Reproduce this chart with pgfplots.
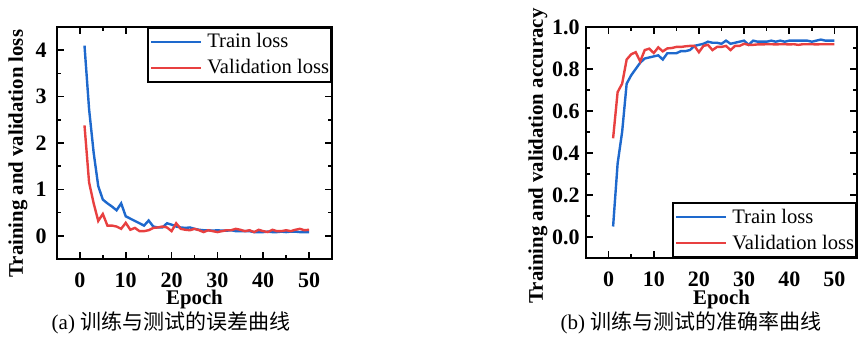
\documentclass[border=0pt]{standalone}
\usepackage{pgfplots}
\pgfplotsset{compat=1.18}
\usepackage{fontspec}
\setmainfont{Liberation Serif}
\newfontfamily\cjk{Noto Sans CJK SC}
\definecolor{cblue}{RGB}{30,105,205}
\definecolor{cred}{RGB}{232,64,64}

\pgfplotstableread{
e loss
1 4.10
2 2.73
3 1.79
4 1.07
5 0.78
6 0.70
7 0.63
8 0.55
9 0.70
10 0.42
11 0.37
12 0.32
13 0.27
14 0.22
15 0.33
16 0.20
17 0.18
18 0.18
19 0.27
20 0.24
21 0.20
22 0.18
23 0.17
24 0.18
25 0.15
26 0.13
27 0.12
28 0.12
29 0.11
30 0.12
31 0.11
32 0.11
33 0.12
34 0.10
35 0.10
36 0.10
37 0.10
38 0.08
39 0.08
40 0.08
41 0.09
42 0.08
43 0.08
44 0.09
45 0.08
46 0.09
47 0.09
48 0.08
49 0.08
50 0.08
}\trainloss

\pgfplotstableread{
e loss
1 2.38
2 1.15
3 0.70
4 0.32
5 0.47
6 0.22
7 0.22
8 0.20
9 0.15
10 0.28
11 0.13
12 0.17
13 0.10
14 0.10
15 0.12
16 0.17
17 0.18
18 0.20
19 0.18
20 0.10
21 0.27
22 0.15
23 0.13
24 0.12
25 0.15
26 0.12
27 0.08
28 0.12
29 0.10
30 0.08
31 0.10
32 0.12
33 0.12
34 0.15
35 0.13
36 0.10
37 0.12
38 0.08
39 0.13
40 0.10
41 0.08
42 0.13
43 0.10
44 0.10
45 0.12
46 0.10
47 0.13
48 0.15
49 0.12
50 0.13
}\valloss

\pgfplotstableread{
e acc
1 0.05
2 0.35
3 0.50
4 0.73
5 0.77
6 0.80
7 0.83
8 0.85
9 0.855
10 0.86
11 0.865
12 0.845
13 0.875
14 0.875
15 0.875
16 0.885
17 0.885
18 0.89
19 0.91
20 0.915
21 0.92
22 0.93
23 0.925
24 0.925
25 0.92
26 0.935
27 0.92
28 0.925
29 0.93
30 0.935
31 0.915
32 0.935
33 0.93
34 0.93
35 0.93
36 0.935
37 0.93
38 0.935
39 0.93
40 0.935
41 0.935
42 0.935
43 0.935
44 0.935
45 0.93
46 0.935
47 0.94
48 0.935
49 0.935
50 0.935
}\trainacc

\pgfplotstableread{
e acc
1 0.47
2 0.69
3 0.73
4 0.845
5 0.87
6 0.88
7 0.836
8 0.89
9 0.897
10 0.876
11 0.903
12 0.884
13 0.898
14 0.90
15 0.905
16 0.905
17 0.908
18 0.91
19 0.91
20 0.88
21 0.91
22 0.915
23 0.89
24 0.905
25 0.905
26 0.91
27 0.89
28 0.91
29 0.91
30 0.92
31 0.915
32 0.915
33 0.917
34 0.917
35 0.918
36 0.918
37 0.917
38 0.918
39 0.918
40 0.917
41 0.918
42 0.915
43 0.918
44 0.918
45 0.918
46 0.917
47 0.918
48 0.918
49 0.918
50 0.918
}\valacc

\pgfplotsset{
  myaxis/.style={
    scale only axis,
    axis line style={line width=0.8bp},
    every tick/.style={line width=0.8bp, black},
    tick align=inside,
    major tick length=3.5bp,
    minor tick length=2bp,
    minor tick num=1,
    xmin=-5, xmax=55,
    xtick={0,10,...,50},
    /pgf/number format/assume math mode=true,
    tick label style={font=\bfseries\fontsize{11bp}{13bp}\selectfont},
    xticklabel style={anchor=base, inner sep=0pt, yshift=-14bp},
    yticklabel style={anchor=east, inner sep=0pt, xshift=-5bp},
    label style={font=\bfseries\fontsize{10.4bp}{12bp}\selectfont, inner sep=0pt},
    xlabel={Epoch},
    legend cell align=left,
    legend image code/.code={\draw[##1] (0bp,0bp) -- (25bp,0bp);},
    legend style={draw=black, line width=0.8bp, inner xsep=1bp, inner ysep=0.5bp,
      font=\fontsize{10.3bp}{12bp}\selectfont, column sep=2.5bp, row sep=0pt,
      nodes={inner sep=0pt, text height=9.5bp, text depth=3.5bp}},
  },
}

\begin{document}
\begin{tikzpicture}
\useasboundingbox (0,0) rectangle (429.5bp,170bp);
% left
\begin{axis}[myaxis,
  at={(28.5bp,40.5bp)}, anchor=south west,
  width=137.5bp, height=116bp,
  ymin=-0.5, ymax=4.5, ytick={0,1,2,3,4},
  xlabel style={at={(axis description cs:0.5,0)}, anchor=base, yshift=-22.5bp},
  ylabel={Training and validation loss},
  ylabel style={at={([xshift=-19.5bp,yshift=-5.3bp]axis description cs:0,0.5)}, anchor=center, rotate=0},
  legend style={at={(1,1)}, anchor=north east},
]
\addplot[cblue, line width=1.2bp] table[x=e, y=loss] {\trainloss};
\addlegendentry{Train loss}
\addplot[cred, line width=1.2bp] table[x=e, y=loss] {\valloss};
\addlegendentry{Validation loss}
\end{axis}
% right
\begin{axis}[myaxis,
  at={(293bp,41bp)}, anchor=south west,
  width=135.5bp, height=115.5bp,
  ymin=-0.1, ymax=1.0, ytick={0,0.2,...,1.0},
  yticklabel style={/pgf/number format/fixed, /pgf/number format/precision=1, /pgf/number format/fixed zerofill, xshift=2bp},
  xlabel style={at={(axis description cs:0.5,0)}, anchor=base, yshift=-23bp},
  ylabel={Training and validation accuracy},
  ylabel style={at={([xshift=-24bp,yshift=-6.75bp]axis description cs:0,0.5)}, anchor=center, rotate=0},
  legend style={at={(1,0)}, anchor=south east},
]
\addplot[cblue, line width=1.2bp] table[x=e, y=acc] {\trainacc};
\addlegendentry{Train loss}
\addplot[cred, line width=1.2bp] table[x=e, y=acc] {\valacc};
\addlegendentry{Validation loss}
\end{axis}
\node[font=\fontsize{10.5bp}{12bp}\selectfont] at (85.5bp,8.5bp) {(a) {\cjk 训练与测试的误差曲线}};
\node[font=\fontsize{10.5bp}{12bp}\selectfont] at (345.5bp,8.5bp) {(b) {\cjk 训练与测试的准确率曲线}};
\end{tikzpicture}
\end{document}
